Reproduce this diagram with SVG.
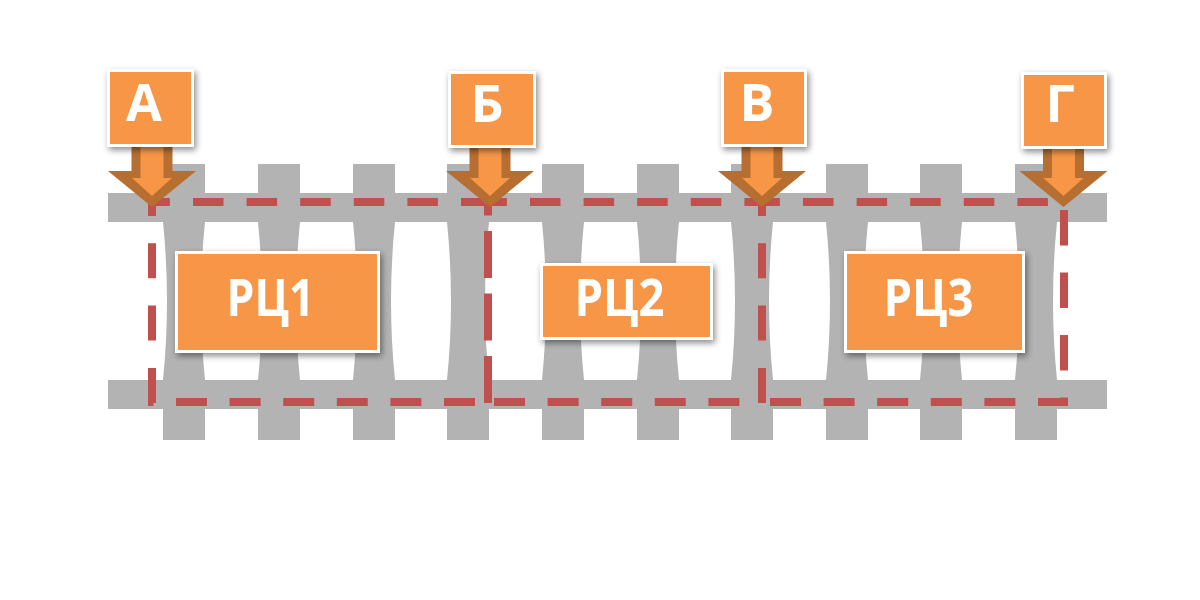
<svg xmlns="http://www.w3.org/2000/svg" width="1200" height="600" viewBox="0 0 1200 600">
  <style>
    .track { fill: #b3b3b3; }
    .rc { fill: none; stroke: #c0504d; stroke-width: 8; }
    .h { stroke-dasharray: 30.5 23.1; }
    .v { stroke-dasharray: 35 27.3; }
    .box { fill: #f79646; stroke: #ffffff; stroke-width: 3; filter: url(#shadow); }
    .lbl { fill: #ffffff; font-family: "Open Sans", "Liberation Sans", sans-serif; font-weight: 700; font-size: 52px; text-anchor: middle; }
    .arrow-out { fill: #b76e31; }
    .arrow-in { fill: #f79646; }
  </style>
  <defs>
    <filter id="shadow" x="-20%" y="-20%" width="140%" height="150%">
      <feDropShadow dx="2" dy="3" stdDeviation="3" flood-color="#000000" flood-opacity="0.45"/>
    </filter>
    <filter id="soft" x="-5%" y="-5%" width="110%" height="110%">
      <feGaussianBlur stdDeviation="0.7"/>
    </filter>
  </defs>

  <rect width="1200" height="600" fill="#ffffff"/>

  <!-- track: rails and sleepers -->
  <g id="track" class="track" filter="url(#soft)">
    <rect x="108" y="193" width="999" height="29"/>
    <rect x="108" y="380" width="999" height="29"/>
    <g id="sleepers">
      <path d="M163,164 H205 V222 Q197,301 205,380 V440 H163 V380 Q171,301 163,222 Z"/>
      <path d="M258,164 H300 V222 Q292,301 300,380 V440 H258 V380 Q266,301 258,222 Z"/>
      <path d="M353,164 H395 V222 Q387,301 395,380 V440 H353 V380 Q361,301 353,222 Z"/>
      <path d="M447,164 H489 V222 Q481,301 489,380 V440 H447 V380 Q455,301 447,222 Z"/>
      <path d="M542,164 H584 V222 Q576,301 584,380 V440 H542 V380 Q550,301 542,222 Z"/>
      <path d="M637,164 H679 V222 Q671,301 679,380 V440 H637 V380 Q645,301 637,222 Z"/>
      <path d="M731,164 H773 V222 Q765,301 773,380 V440 H731 V380 Q739,301 731,222 Z"/>
      <path d="M826,164 H868 V222 Q860,301 868,380 V440 H826 V380 Q834,301 826,222 Z"/>
      <path d="M920,164 H962 V222 Q954,301 962,380 V440 H920 V380 Q928,301 920,222 Z"/>
      <path d="M1015,164 H1057 V222 Q1049,301 1057,380 V440 H1015 V380 Q1023,301 1015,222 Z"/>
    </g>
  </g>

  <!-- track circuit boundaries (dashed) -->
  <g id="connectors">
    <line class="rc h" x1="148" y1="202" x2="488" y2="202" stroke-dashoffset="8.6"/>
    <line class="rc h" x1="488" y1="202" x2="762" y2="202" stroke-dashoffset="11.6"/>
    <line class="rc h" x1="762" y1="202" x2="1064" y2="202" stroke-dashoffset="12.6"/>
    <line class="rc h" x1="148" y1="402" x2="488" y2="402" stroke-dashoffset="25.6" style="stroke-dasharray:31 22.6"/>
    <line class="rc h" x1="488" y1="402" x2="762" y2="402" stroke-dashoffset="47.6" style="stroke-dasharray:31 22.6"/>
    <line class="rc h" x1="762" y1="402" x2="1068" y2="402" stroke-dashoffset="45.6" style="stroke-dasharray:31 22.6"/>
    <line class="rc v" x1="152" y1="202" x2="152" y2="403" stroke-dashoffset="21"/>
    <line class="rc" x1="488" y1="202" x2="488" y2="403" stroke-dashoffset="33.5" style="stroke-dasharray:47 15.5"/>
    <line class="rc v" x1="762" y1="202" x2="762" y2="404" stroke-dashoffset="21"/>
    <line class="rc" x1="1064" y1="202" x2="1064" y2="406" stroke-dashoffset="54.5" style="stroke-dasharray:35.5 27"/>
  </g>

  <!-- arrows -->
  <g id="arrows">
    <g id="arrow-A">
      <polygon class="arrow-out" points="131.5,147 172.5,147 172.5,171 196,171 152,207 108,171 131.5,171"/>
      <polygon class="arrow-in" points="140.5,147 163.5,147 163.5,178 172,178 152,196 132,178 140.5,178"/>
    </g>
    <g id="arrow-B">
      <polygon class="arrow-out" points="469.5,147 510.5,147 510.5,171 534,171 490,207 446,171 469.5,171"/>
      <polygon class="arrow-in" points="478.5,147 501.5,147 501.5,178 510,178 490,196 470,178 478.5,178"/>
    </g>
    <g id="arrow-V">
      <polygon class="arrow-out" points="741.5,147 782.5,147 782.5,171 806,171 762,207 718,171 741.5,171"/>
      <polygon class="arrow-in" points="750.5,147 773.5,147 773.5,178 782,178 762,196 742,178 750.5,178"/>
    </g>
    <g id="arrow-G">
      <polygon class="arrow-out" points="1043,147 1084,147 1084,171 1107.5,171 1063.5,207 1019.5,171 1043,171"/>
      <polygon class="arrow-in" points="1052,147 1075,147 1075,178 1083.5,178 1063.5,196 1043.5,178 1052,178"/>
    </g>
  </g>

  <!-- point labels -->
  <g id="node-A">
    <rect class="box" x="108.5" y="70.5" width="84" height="75"/>
    <text class="lbl" x="144" y="121">А</text>
  </g>
  <g id="node-B">
    <rect class="box" x="449.5" y="72.5" width="85" height="74"/>
    <text class="lbl" x="487" y="122">Б</text>
  </g>
  <g id="node-V">
    <rect class="box" x="722.5" y="70.5" width="83" height="75"/>
    <text class="lbl" x="757" y="121">В</text>
  </g>
  <g id="node-G">
    <rect class="box" x="1022.5" y="73.5" width="83" height="74"/>
    <text class="lbl" x="1060" y="122">Г</text>
  </g>

  <!-- track circuits -->
  <g id="node-RC1">
    <rect class="box" x="176.5" y="252.5" width="202" height="99"/>
    <text class="lbl" x="270.5" y="316" textLength="88" lengthAdjust="spacingAndGlyphs">РЦ1</text>
  </g>
  <g id="node-RC2">
    <rect class="box" x="541.5" y="264.5" width="170" height="74"/>
    <text class="lbl" x="619.5" y="316" textLength="90" lengthAdjust="spacingAndGlyphs">РЦ2</text>
  </g>
  <g id="node-RC3">
    <rect class="box" x="845.5" y="252.5" width="178" height="99"/>
    <text class="lbl" x="928.5" y="316" textLength="90" lengthAdjust="spacingAndGlyphs">РЦ3</text>
  </g>
</svg>
